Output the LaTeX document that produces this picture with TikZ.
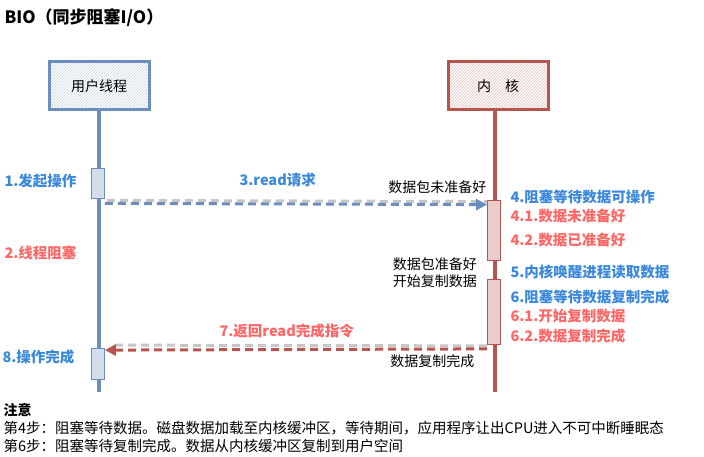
\documentclass[tikz,border=0pt]{standalone}
\usepackage{fontspec}
\setmainfont{Noto Sans CJK SC}
\usetikzlibrary{arrows.meta,patterns}
\definecolor{ublue}{HTML}{6C8EBF}
\definecolor{kred}{HTML}{B85450}
\definecolor{tblue}{HTML}{3A88DC}
\definecolor{tred}{HTML}{FF6666}
\begin{document}
\begin{tikzpicture}[x=1pt,y=-1pt,font=\fontsize{14}{17}\selectfont,
    actor/.style={draw=#1,line width=3pt,minimum width=100pt,minimum height=48pt,pattern=north east lines,pattern color=#1!40},
    life/.style={draw=#1,line width=3.5pt},
    act/.style={draw=#1,line width=0.8pt,fill=#1!30,minimum width=13pt,inner sep=0pt},
    msg/.style={line width=3pt,dash pattern=on 8pt off 5pt,-{Triangle[length=11pt,width=11pt]}},
    shadow/.style={gray!45,line width=3pt,dash pattern=on 8pt off 5pt},
    lbl/.style={font=\fontsize{14.5}{17}\selectfont\bfseries,anchor=west}]
    \useasboundingbox (0,0) rectangle (704,457);
    \node[anchor=west,font=\fontsize{17}{20}\selectfont\bfseries] (title) at (1,18) {BIO（同步阻塞I/O）};
    % actors
    \node[actor=ublue] (user) at (99,86) {用户线程};
    \node[actor=kred] (kernel) at (498,86) {内\quad 核};
    \coordinate (uend) at (99,392);
    \coordinate (kend) at (495,392);
    \draw[life=ublue] (user.south) -- (uend);
    \draw[life=kred] (kernel.south -| kend) -- (kend);
    % activations
    \node[act=ublue,minimum height=30pt] (ua1) at (98,183) {};
    \node[act=ublue,minimum height=31pt] (ua2) at (98,364) {};
    \node[act=kred,minimum height=60pt] (ka1) at (494,230) {};
    \node[act=kred,minimum height=65pt] (ka2) at (494,312) {};
    % messages
    \draw[shadow] ([xshift=2pt,yshift=-2pt]ua1.south east) -- ([yshift=-2pt]ka1.north west);
    \draw[msg,ublue] ([yshift=-5pt]ua1.south east) -- ([yshift=-5pt]ka1.north west);
    \draw[shadow] ([yshift=-1pt]ka2.south west) -- ([xshift=6pt,yshift=3pt]ua2.north east);
    \draw[msg,kred] ([yshift=-4pt]ka2.south west) -- ([yshift=-2pt]ua2.north east);
    \node[lbl,tblue] (m3) at (236,180) {3.read请求};
    \node[lbl,tred] (m7) at (216,331) {7.返回read完成指令};
    % left labels
    \node[lbl,tblue] (s1) at (1,181) {1.发起操作};
    \node[lbl,tred] (s2) at (1,253) {2.线程阻塞};
    \node[lbl,tblue] (s8) at (-1,357) {8.操作完成};
    % kernel side notes
    \node[anchor=east] (n1) at (490,187) {数据包未准备好};
    \node[anchor=east,align=left,inner sep=1pt] (n2) at (478,273) {数据包准备好\\开始复制数据};
    \node[anchor=east] (n3) at (478,361) {数据复制完成};
    \node[lbl,tblue] (s4) at (507,197) {4.阻塞等待数据可操作};
    \node[lbl,tred] (s41) at (507,216) {4.1.数据未准备好};
    \node[lbl,tred] (s42) at (507,240) {4.2.数据已准备好};
    \node[lbl,tblue] (s5) at (507,272) {5.内核唤醒进程读取数据};
    \node[lbl,tblue] (s6) at (507,297) {6.阻塞等待数据复制完成};
    \node[lbl,tred] (s61) at (507,316) {6.1.开始复制数据};
    \node[lbl,tred] (s62) at (507,336) {6.2.数据复制完成};
    % notes
    \node[anchor=west,font=\fontsize{14}{17}\selectfont\bfseries] (note) at (0,410) {注意};
    \node[anchor=west,font=\fontsize{14.5}{17}\selectfont] (note4) at (0,428) {第4步：阻塞等待数据。磁盘数据加载至内核缓冲区，等待期间，应用程序让出CPU进入不可中断睡眠态};
    \node[anchor=west,font=\fontsize{14.5}{17}\selectfont] (note6) at (0,446) {第6步：阻塞等待复制完成。数据从内核缓冲区复制到用户空间};
\end{tikzpicture}
\end{document}
